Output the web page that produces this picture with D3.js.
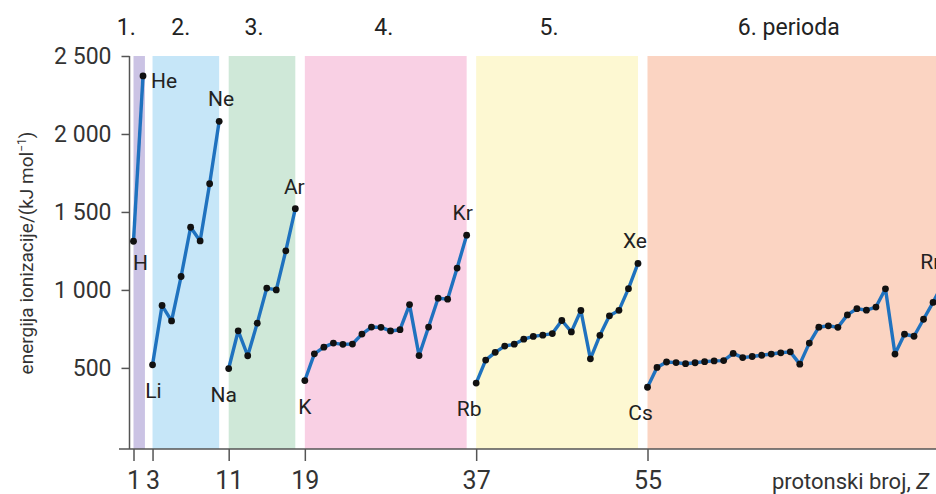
<!DOCTYPE html>
<html><head><meta charset="utf-8">
<script src="https://cdn.jsdelivr.net/npm/d3@7"></script>
<style>
body{margin:0;background:#fff;}
svg{display:block;font-family:Roboto,"Noto Sans",sans-serif;}
</style></head>
<body><svg id="c" width="936" height="494"></svg>
<script>
// atomic number Z = 1..86
const protonNumbers = d3.range(1, 87);
// first ionization energies, kJ/mol
const ionizationEnergy = [
 1312,2372,
 520,900,801,1086,1402,1314,1681,2081,
 496,738,578,787,1012,1000,1251,1521,
 419,590,633,659,651,653,717,762,760,737,745,906,579,762,947,941,1140,1351,
 403,550,600,640,652,684,702,710,720,804,731,868,558,709,834,869,1008,1170,
 376,503,538,534,527,533,540,545,547,593,566,573,581,589,597,603,524,659,761,770,760,840,880,870,890,1007,589,716,703,812,920,1037
];
const periodNames = ["1.","2.","3.","4.","5.","6. perioda"];
const periodStart = [1,3,11,19,37,55];
const periodEnd   = [2.2,10,18,36,54,90];
const periodColors = ["#cbc3e4","#c6e6f8","#cfe8d8","#f9d0e4","#fdf8d2","#fbd4c2"];
const labelElements = ["H","He","Li","Ne","Na","Ar","K","Kr","Rb","Xe","Cs","Rn"];
const labelZ        = [1,2,3,10,11,18,19,36,37,54,55,86];
const labelPos      = ["below","right","below","above","below","above","below","above","below","above","below","above"];
const xTicks = [1,3,11,19,37,55];
const yTicks = [500,1000,1500,2000,2500];

const svg = d3.select("#c");
const x = d3.scaleLinear().domain([1,55]).range([133.5,647.5]);
const y = d3.scaleLinear().domain([-20,2500]).range([449,56]);
const yTop = y(2500), yBot = y(-20);

// period bands
svg.append("g").selectAll("rect").data(periodNames).join("rect")
  .attr("x",(d,i)=>x(periodStart[i]))
  .attr("width",(d,i)=>Math.min(936,x(periodEnd[i]))-x(periodStart[i]))
  .attr("y",yTop).attr("height",yBot-yTop)
  .attr("fill",(d,i)=>periodColors[i]);

// period labels
const labelCenterShift = [-13,-5,-8,-2,-8,-3];
svg.append("g").selectAll("text").data(periodNames).join("text")
  .attr("x",(d,i)=>(x(periodStart[i])+Math.min(936,x(periodEnd[i])))/2+labelCenterShift[i])
  .attr("y",35).attr("text-anchor","middle")
  .attr("font-size",23).attr("fill","#222").text(d=>d);

// axes
const yAxis = d3.axisLeft(y).tickValues(yTicks).tickSize(8).tickPadding(10)
  .tickFormat(d=>d>=1000? d3.format(",")(d).replace(","," "):d);
const gy = svg.append("g").attr("transform","translate(129.5,0)").call(yAxis);
gy.select(".domain").attr("d",`M0,${yTop}V${yBot}`).attr("stroke","#555").attr("stroke-width",1.5);
gy.selectAll(".tick line").attr("stroke","#555").attr("stroke-width",1.5);
gy.selectAll(".tick text").attr("font-size",23).attr("fill","#333").attr("font-family","Roboto,sans-serif");

const xAxis = d3.axisBottom(x).tickValues(xTicks).tickSize(12).tickPadding(10).tickFormat(d3.format("d"));
const gx = svg.append("g").attr("transform",`translate(0,${yBot})`).call(xAxis);
gx.select(".domain").attr("d","M119,0H936").attr("stroke","#555").attr("stroke-width",1.5);
gx.selectAll(".tick line").attr("stroke","#555").attr("stroke-width",1.5);
gx.selectAll(".tick text").attr("font-size",25).attr("fill","#333").attr("font-family","Roboto,sans-serif");

// axis titles
svg.append("text").attr("transform","translate(33,253) rotate(-90)")
  .attr("text-anchor","middle").attr("font-size",19).attr("fill","#333")
  .html('energija ionizacije/(kJ mol<tspan dy="-7" font-size="12">−1</tspan><tspan dy="7">)</tspan>');
svg.append("text").attr("x",929).attr("y",489).attr("text-anchor","end")
  .attr("font-size",22).attr("fill","#333")
  .html('protonski broj, <tspan font-style="italic">Z</tspan>');

// data line per period
const pts = protonNumbers.map((z,i)=>({z, v: ionizationEnergy[i]}));
const line = d3.line().x(d=>x(d.z)).y(d=>y(d.v));
periodStart.forEach((s,i)=>{
  const e = i<5 ? periodStart[i+1]-1 : 86;
  const seg = pts.filter(p=>p.z>=s && p.z<=e);
  svg.append("path").datum(seg).attr("d",line).attr("fill","none")
    .attr("stroke","#1f72bf").attr("stroke-width",3.4).attr("stroke-linejoin","round");
});
svg.append("g").selectAll("circle").data(pts).join("circle")
  .attr("cx",d=>x(d.z)).attr("cy",d=>y(d.v)).attr("r",3.4).attr("fill","#111");

// element labels
const labelDx = [7,8,1,2,-5,-1,0,-4,-7,-3,-7,-10];
svg.append("g").selectAll("text").data(labelElements).join("text")
  .attr("x",(d,i)=>x(labelZ[i])+labelDx[i])
  .attr("y",(d,i)=>{const py=y(ionizationEnergy[labelZ[i]-1]);
     return labelPos[i]==="right"? py+12 : labelPos[i]==="above"? py-15 : py+(labelZ[i]===1?29:33);})
  .attr("text-anchor",(d,i)=>labelPos[i]==="right"?"start":"middle")
  .attr("font-size",21).attr("fill","#222").text(d=>d);
</script></body></html>
